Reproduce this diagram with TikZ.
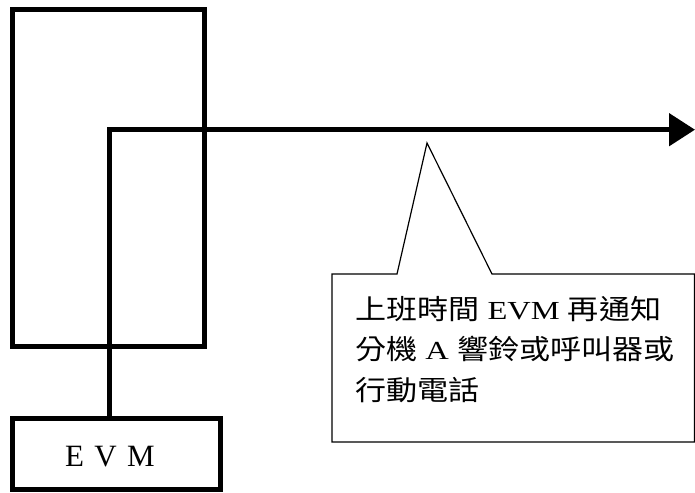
\documentclass[tikz,border=0pt]{standalone}
\usepackage{fontspec}
\setmainfont{Liberation Serif}
\newfontfamily\cjk[FakeStretch=1.13]{Noto Sans CJK TC}
\newfontfamily\latw[FakeStretch=1.25]{Liberation Serif}
\usetikzlibrary{arrows.meta}
\begin{document}
\begin{tikzpicture}[x=1pt,y=-1pt,
  thickbox/.style={draw=black,line width=5pt,inner sep=0pt},
  conn/.style={line width=5pt},
  thinline/.style={line width=1.2pt,line join=miter},
  ctext/.style={anchor=base west,inner sep=0pt,font=\fontsize{27.5}{41}\selectfont}]
\useasboundingbox (0,0) rectangle (695,492);
% big rectangle
\node[thickbox,minimum width=192pt,minimum height=336pt] (big) at (108.7,178) {};
% EVM box
\node[thickbox,minimum width=207.5pt,minimum height=71pt] (evm) at (116.25,453.5) {};
\node[anchor=base,inner sep=0pt,font=\fontsize{31}{31}\selectfont] (evmlabel) at (110,466) {E\,\,V\,\,M};
% connector
\coordinate (corner) at (109,129.7);
\coordinate (tipend) at (695,129.7);
\draw[conn,-{Triangle[length=26pt,width=32pt]}] (evm.north -| corner) -- (corner) -- (tipend);
% callout
\coordinate (ptip) at (427,143);
\draw[thinline] (332,274) -- (397,274) -- (ptip) -- (492,274) -- (694.4,274) -- (694.4,442) -- (332,442) -- cycle;
\node[ctext] (l1) at (355,319) {{\cjk 上班時間}{\fontsize{26}{41}\latw\ EVM\ }{\cjk 再通知}};
\node[ctext] (l2) at (355,359) {{\cjk 分機}{\fontsize{26}{41}\latw\ A\ }{\cjk 響鈴或呼叫器或}};
\node[ctext] (l3) at (355,400) {{\cjk 行動電話}};
\end{tikzpicture}
\end{document}
